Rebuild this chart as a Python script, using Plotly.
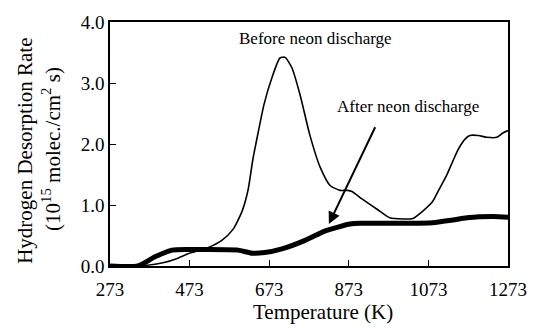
import plotly.graph_objects as go

# Before neon discharge (thin line)
before_T = [273, 343, 386, 411, 440, 469, 519, 554, 582, 605, 620, 632, 645, 660, 680, 700, 713, 730, 750, 775,
            801, 826, 851, 870, 881, 906, 944, 976, 1009, 1034, 1059, 1084, 1097, 1119, 1147, 1165, 1177, 1198,
            1220, 1245, 1260, 1273]
before_y = [0.0, 0.0, 0.03, 0.06, 0.12, 0.2, 0.3, 0.42, 0.6, 0.9, 1.25, 1.75, 2.18, 2.65, 3.09, 3.41, 3.42, 3.25,
            2.82, 2.15, 1.62, 1.32, 1.24, 1.24, 1.22, 1.10, 0.93, 0.79, 0.77, 0.78, 0.9, 1.06, 1.22, 1.49, 1.90,
            2.08, 2.14, 2.14, 2.11, 2.11, 2.18, 2.22]

# After neon discharge (thick line)
after_T = [273, 343, 386, 429, 469, 512, 595, 630, 662, 705, 763, 808, 826, 876, 909, 1000, 1084, 1130, 1170,
           1235, 1273]
after_y = [0.0, 0.0, 0.15, 0.26, 0.27, 0.27, 0.26, 0.21, 0.22, 0.28, 0.42, 0.56, 0.60, 0.69, 0.70, 0.70, 0.71,
           0.75, 0.79, 0.81, 0.80]

x_ticks = [273, 473, 673, 873, 1073, 1273]
y_ticks = [0.0, 1.0, 2.0, 3.0, 4.0]
y_tick_text = ["0.0", "1.0", "2.0", "3.0", "4.0"]

FONT = "Liberation Serif, Times New Roman, serif"

def px_x(p):
    return (p - 110) / 398

def px_y(p):
    return (266 - p) / 250

fig = go.Figure()
fig.add_trace(go.Scatter(x=before_T, y=before_y, mode="lines",
                         line=dict(color="black", width=1.6, shape="spline", smoothing=0.6),
                         showlegend=False, name="Before neon discharge"))
fig.add_trace(go.Scatter(x=after_T, y=after_y, mode="lines",
                         line=dict(color="black", width=5, shape="spline", smoothing=0.6),
                         showlegend=False, name="After neon discharge"))

def label(x, y, text, size, angle=0):
    fig.add_annotation(x=px_x(x), y=px_y(y), xref="paper", yref="paper", text=text,
                       showarrow=False, textangle=angle, xanchor="center", yanchor="middle",
                       font=dict(family=FONT, size=size, color="black"))

label(315, 33, "Before neon discharge", 17)
label(408, 103, "After neon discharge", 17)
fig.add_annotation(x=823, y=0.69, ax=941, ay=2.30, xref="x", yref="y", axref="x", ayref="y",
                   text="", showarrow=True, arrowhead=2, arrowsize=1.2, arrowwidth=2, arrowcolor="black")

label(323, 313, "Temperature (K)", 21)
label(25, 148, "Hydrogen Desorption Rate", 21, -90)
label(52, 146, "(10<sup>15</sup> molec./cm<sup>2</sup> s)", 21, -90)

fig.update_xaxes(range=[273, 1273], tickvals=x_ticks, ticktext=[str(t) for t in x_ticks],
                 ticks="inside", ticklen=6, tickcolor="black", tickwidth=1, ticklabelstandoff=5,
                 showline=True, linecolor="black", linewidth=1.5, mirror=True,
                 showgrid=False, zeroline=False,
                 tickfont=dict(family=FONT, size=19, color="black"))
fig.update_yaxes(range=[0, 4], tickvals=y_ticks, ticktext=y_tick_text,
                 ticks="inside", ticklen=6, tickcolor="black", tickwidth=1,
                 showline=True, linecolor="black", linewidth=1.5, mirror=True,
                 showgrid=False, zeroline=False,
                 tickfont=dict(family=FONT, size=19, color="black"))

fig.update_layout(width=547, height=331, margin=dict(l=110, r=39, t=16, b=65),
                  plot_bgcolor="white", paper_bgcolor="white",
                  font=dict(family=FONT, color="black"))

fig.write_html("out.html")
